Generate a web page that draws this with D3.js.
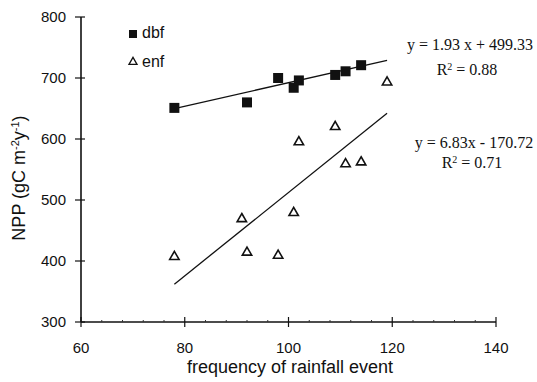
<!DOCTYPE html>
<html>
<head>
<meta charset="utf-8">
<script src="https://d3js.org/d3.v7.min.js"></script>
<style>
  body { margin: 0; background: #fff; }
  .tick text { font-family: "Liberation Sans Narrow", "Arial Narrow", "Liberation Sans", sans-serif; font-size: 15px; fill: #111; }
</style>
</head>
<body>
<script>
// data
let dbfX = [78, 92, 98, 101, 102, 109, 111, 114];
let dbfY = [651, 660, 700, 684, 696, 705, 711, 721];
let enfX = [78, 91, 92, 98, 101, 102, 109, 111, 114, 119];
let enfY = [407, 469, 414, 409, 479, 595, 620, 559, 562, 693];
let fitDbf = {slope: 1.93, icept: 499.33, from: 78, to: 119};
let fitEnf = {slope: 6.83, icept: -170.72, from: 78, to: 119};
let xTicks = [60, 80, 100, 120, 140];
let yTicks = [300, 400, 500, 600, 700, 800];

let width = 537, height = 382;

let svg = d3.select("body").append("svg")
    .attr("width", width)
    .attr("height", height);

let x = d3.scaleLinear().domain([60, 140]).range([81, 496]);
let y = d3.scaleLinear().domain([300, 800]).range([322, 17]);

// x axis: major ticks crossing the line, small minor ticks
let xAxis = svg.append("g")
    .attr("transform", "translate(0,322)");
xAxis.append("line")
    .attr("x1", x(60)).attr("x2", x(140))
    .attr("stroke", "#111").attr("stroke-width", 1.6);
xAxis.selectAll(".minor")
    .data(d3.range(60, 141, 4).filter(d => d % 20 != 0))
    .join("line")
    .attr("x1", d => x(d)).attr("x2", d => x(d))
    .attr("y1", -2).attr("y2", 0)
    .attr("stroke", "#333").attr("stroke-width", 1);
let xt = xAxis.selectAll(".tick")
    .data(xTicks)
    .join("g").attr("class", "tick")
    .attr("transform", d => `translate(${x(d)},0)`);
xt.append("line").attr("y1", -5).attr("y2", 5).attr("stroke", "#111").attr("stroke-width", 1.2);
xt.append("text").attr("y", 31).attr("text-anchor", "middle").text(d => d);

// y axis
let yAxis = svg.append("g")
    .attr("transform", "translate(81,0)");
yAxis.append("line")
    .attr("y1", y(300)).attr("y2", y(800))
    .attr("stroke", "#111").attr("stroke-width", 1.6);
let yt = yAxis.selectAll(".tick")
    .data(yTicks)
    .join("g").attr("class", "tick")
    .attr("transform", d => `translate(0,${y(d)})`);
yt.append("line").attr("x1", -6).attr("x2", 4).attr("stroke", "#111").attr("stroke-width", 1.2);
yt.append("text").attr("x", -15).attr("dy", "0.35em").attr("text-anchor", "end").text(d => d);

// axis titles
svg.append("text")
    .attr("x", 290).attr("y", 373)
    .attr("text-anchor", "middle")
    .attr("font-family", "Liberation Sans, Arial, sans-serif")
    .attr("font-size", 18).attr("fill", "#111")
    .text("frequency of rainfall event");

let yl = svg.append("text")
    .attr("transform", "translate(25,178) rotate(-90)")
    .attr("text-anchor", "middle")
    .attr("font-family", "Liberation Sans, Arial, sans-serif")
    .attr("font-size", 18).attr("fill", "#111");
yl.append("tspan").text("NPP (gC m");
yl.append("tspan").attr("baseline-shift", "super").attr("font-size", 11).text("-2");
yl.append("tspan").text("y");
yl.append("tspan").attr("baseline-shift", "super").attr("font-size", 11).text("-1");
yl.append("tspan").text(")");

// regression lines
let fits = [fitDbf, fitEnf];
svg.selectAll(".fit")
    .data(fits)
    .join("line").attr("class", "fit")
    .attr("x1", d => x(d.from)).attr("y1", d => y(d.slope * d.from + d.icept))
    .attr("x2", d => x(d.to)).attr("y2", d => y(d.slope * d.to + d.icept))
    .attr("stroke", "#111").attr("stroke-width", 1.3);

// dbf squares
svg.selectAll(".dbf")
    .data(dbfX.map((v, i) => [v, dbfY[i]]))
    .join("rect").attr("class", "dbf")
    .attr("x", d => x(d[0]) - 5).attr("y", d => y(d[1]) - 5)
    .attr("width", 10).attr("height", 10)
    .attr("fill", "#111");

// enf triangles
let tri = d3.symbol().type(d3.symbolTriangle).size(38);
svg.selectAll(".enf")
    .data(enfX.map((v, i) => [v, enfY[i]]))
    .join("path").attr("class", "enf")
    .attr("transform", d => `translate(${x(d[0])},${y(d[1])})`)
    .attr("d", tri)
    .attr("fill", "white").attr("stroke", "#111").attr("stroke-width", 1.6);

// legend
svg.append("rect").attr("x", 129).attr("y", 30).attr("width", 8).attr("height", 8).attr("fill", "#111");
svg.append("text").attr("x", 142).attr("y", 38)
    .attr("font-family", "Liberation Sans, Arial, sans-serif").attr("font-size", 16).attr("fill", "#111")
    .text("dbf");
svg.append("path").attr("transform", "translate(133,62)").attr("d", d3.symbol().type(d3.symbolTriangle).size(28))
    .attr("fill", "white").attr("stroke", "#111").attr("stroke-width", 1.3);
svg.append("text").attr("x", 142).attr("y", 67)
    .attr("font-family", "Liberation Sans, Arial, sans-serif").attr("font-size", 16).attr("fill", "#111")
    .text("enf");

// equations
function eq(cx, cy, txt) {
    svg.append("text").attr("x", cx).attr("y", cy).attr("text-anchor", "middle")
        .attr("font-family", "Liberation Serif, Times New Roman, serif")
        .attr("font-size", 16).attr("fill", "#111").text(txt);
}
function r2(cx, cy, val) {
    let t = svg.append("text").attr("x", cx).attr("y", cy).attr("text-anchor", "middle")
        .attr("font-family", "Liberation Serif, Times New Roman, serif")
        .attr("font-size", 16).attr("fill", "#111");
    t.append("tspan").text("R");
    t.append("tspan").attr("baseline-shift", "super").attr("font-size", 10).text("2");
    t.append("tspan").text(" = " + val);
}
eq(470, 50, "y = 1.93 x + 499.33");
r2(467, 75, "0.88");
eq(474, 148, "y = 6.83x - 170.72");
r2(472, 168, "0.71");
</script>
</body>
</html>
